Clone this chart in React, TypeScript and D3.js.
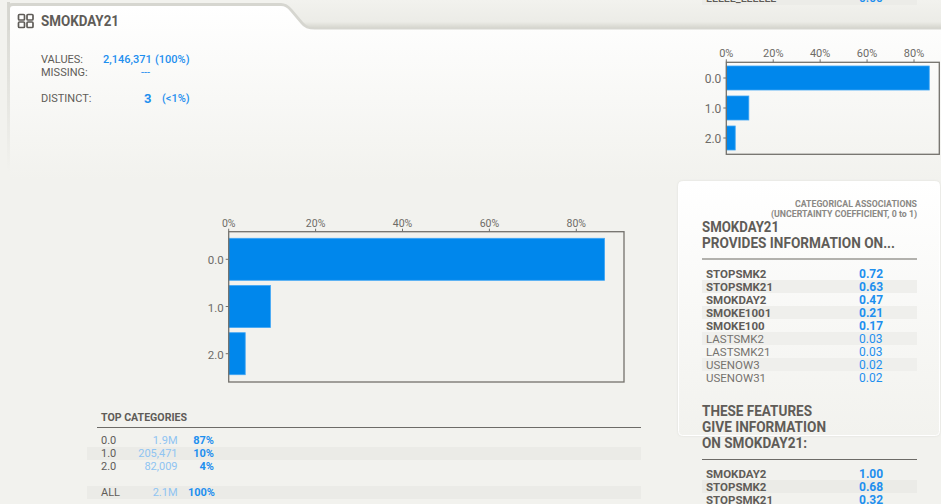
import React from "react";
import * as d3 from "d3";

const categories = ["0.0", "1.0", "2.0"];
const shares = [86.5, 9.6, 3.8];
const xTicks = [0, 20, 40, 60, 80];
const summary = [
  { k: "0.0", n: "1.9M", p: "87%" },
  { k: "1.0", n: "205,471", p: "10%" },
  { k: "2.0", n: "82,009", p: "4%" },
];
const providesNames = ["STOPSMK2", "STOPSMK21", "SMOKDAY2", "SMOKE1001", "SMOKE100", "LASTSMK2", "LASTSMK21", "USENOW3", "USENOW31"];
const providesValues = ["0.72", "0.63", "0.47", "0.21", "0.17", "0.03", "0.03", "0.02", "0.02"];
const givesNames = ["SMOKDAY2", "STOPSMK2", "STOPSMK21"];
const givesValues = ["1.00", "0.68", "0.32"];
// The reference clips this row to 1-2px of glyph bottoms: it cannot be read, so these are placeholders.
const clippedRowPlaceholder = ["LLLLL_LLLLLL", "0.00"];

const BLUE = "#0087ec";
const TXT = "#5f5c58";
const LINK = "#1e8fef";
const BG = "#f2f2ee";
const F = "Roboto, sans-serif";

function Cond({ x, y, w, size, children, fill = TXT, anchor = "start", weight = 700 }: any) {
  return (
    <text x={x} y={y} fontSize={size} fontFamily={F} fontWeight={weight} fill={fill} textAnchor={anchor}
      textLength={w} lengthAdjust="spacingAndGlyphs">{children}</text>
  );
}

function T({ x, y, size = 11, fill = TXT, anchor = "start", weight = 400, children }: any) {
  return <text x={x} y={y} fontSize={size} fontFamily={F} fontWeight={weight} fill={fill} textAnchor={anchor}>{children}</text>;
}

function BarChart({ x0, x80, right, top, bottom, bandTop, bandStep, bandH, fs }: any) {
  const x = d3.scaleLinear().domain([0, 80]).range([x0, x80]);
  return (
    <g>
      {shares.map((s, i) => (
        <rect key={i} x={x(0)} y={bandTop + i * bandStep} width={x(s) - x(0)} height={bandH} fill={BLUE} stroke="#3fa6f5" strokeWidth={0.8} />
      ))}
      <rect x={x0} y={top} width={right - x0} height={bottom - top} fill="none" stroke="#73716c" strokeWidth={1.3} />
      {xTicks.map((t) => (
        <g key={t}>
          <line x1={x(t)} x2={x(t)} y1={top - 3} y2={top} stroke="#73716c" />
          <T x={x(t)} y={top - 5} size={fs} fill="#6d6b67" anchor="middle">{t}%</T>
        </g>
      ))}
      {categories.map((c, i) => {
        const cy = bandTop + i * bandStep + bandH / 2;
        return (
          <g key={c}>
            <line x1={x0 - 3} x2={x0} y1={cy} y2={cy} stroke="#73716c" />
            <T x={x0 - 5} y={cy + 5} size={fs + 1} fill="#6d6b67" anchor="end">{c}</T>
          </g>
        );
      })}
    </g>
  );
}

export default function App() {
  return (
    <svg width={941} height={504} style={{ position: "absolute", left: 0, top: 0 }}>
      <defs>
        <linearGradient id="card" x1="0" y1="0" x2="0" y2="1">
          <stop offset="0" stopColor="#ffffff" />
          <stop offset="1" stopColor={BG} />
        </linearGradient>
        <linearGradient id="edge" x1="0" y1="0" x2="0" y2="1">
          <stop offset="0" stopColor="#d6d6d0" />
          <stop offset="1" stopColor={BG} />
        </linearGradient>
        <linearGradient id="top" x1="0" y1="0" x2="0" y2="1">
          <stop offset="0" stopColor={BG} />
          <stop offset="0.75" stopColor="#ecece7" />
          <stop offset="1" stopColor="#d2d2ca" />
        </linearGradient>
        <linearGradient id="assoc" x1="0" y1="0" x2="0" y2="1">
          <stop offset="0" stopColor="#ffffff" />
          <stop offset="1" stopColor={BG} />
        </linearGradient>
        <filter id="soft" x="-5%" y="-5%" width="110%" height="110%">
          <feDropShadow dx="0" dy="0" stdDeviation="1.2" floodColor="#c4c4bd" floodOpacity="0.45" />
        </filter>
        <clipPath id="topclip"><rect x={0} y={0} width={941} height={5} /></clipPath>
      </defs>

      <rect width={941} height={504} fill={BG} />
      <rect x={0} y={0} width={941} height={29} fill="url(#top)" />
      <rect x={0} y={0} width={285} height={29} fill={BG} />

      <g clipPath="url(#topclip)">
        <rect x={702} y={0} width={215} height={5} fill="#ecece8" />
        <T x={706} y={1.5} size={11} weight={500}>{clippedRowPlaceholder[0]}</T>
        <T x={859} y={1.5} size={12} fill={LINK} weight={500}>{clippedRowPlaceholder[1]}</T>
      </g>

      <rect x={7} y={2} width={3} height={170} fill="url(#edge)" />
      <path d="M8 28 V7 Q8 3 12 3 H281 Q287 3 292 9 L303 22 Q308 28 316 28 H941 V30 H8 Z" fill="#d6d6d0" />
      <path d="M10 180 V9 Q10 6 13 6 H281 Q286 6 290 11 L301 24 Q305 29.5 315 29.5 H941 V180 Z" fill="url(#card)" />

      <g>
        <rect x={18.5} y={14.5} width={6} height={5.5} rx={1} fill="none" stroke={TXT} strokeWidth={1.7} />
        <rect x={27} y={14.5} width={6} height={5.5} rx={1} fill="none" stroke={TXT} strokeWidth={1.7} />
        <rect x={18.5} y={22} width={6} height={5.5} rx={1} fill="none" stroke={TXT} strokeWidth={1.7} />
        <rect x={27} y={22} width={6} height={5.5} rx={1} fill="none" stroke={TXT} strokeWidth={1.7} />
      </g>
      <Cond x={41} y={26} w={78} size={14}>SMOKDAY21</Cond>

      <T x={41} y={63} size={11}>VALUES:</T>
      <T x={41} y={76} size={11}>MISSING:</T>
      <T x={41} y={102} size={11}>DISTINCT:</T>
      <T x={103} y={63} size={11} fill={LINK} weight={500}>2,146,371</T>
      <T x={155} y={63} size={11} fill={LINK} weight={500}>(100%)</T>
      <T x={141} y={76} size={11} fill={LINK}>---</T>
      <T x={144} y={103} size={13} fill={LINK} weight={700}>3</T>
      <T x={162} y={102} size={11} fill={LINK} weight={500}>(&lt;1%)</T>

      <BarChart x0={726.3} x80={914} right={939.3} top={62.3} bottom={154.3} bandTop={66} bandStep={30} bandH={24} fs={11} />
      <BarChart x0={228.7} x80={576.3} right={624} top={231.7} bottom={382} bandTop={238.3} bandStep={47.2} bandH={42} fs={10.5} />

      <Cond x={101} y={421} w={86} size={10.5}>TOP CATEGORIES</Cond>
      <line x1={97} x2={641} y1={427.5} y2={427.5} stroke="#6d6b67" strokeWidth={1.2} />
      <rect x={87} y={447} width={554} height={13} fill="#ebebe7" />
      <rect x={87} y={486} width={554} height={13} fill="#ebebe7" />
      {summary.map((r, i) => (
        <g key={r.k}>
          <T x={101} y={444 + i * 13} size={11}>{r.k}</T>
          <T x={177.5} y={444 + i * 13} size={11} fill="#8fc4f2" anchor="end">{r.n}</T>
          <T x={214} y={444 + i * 13} size={11} fill={LINK} anchor="end" weight={700}>{r.p}</T>
        </g>
      ))}
      <T x={101} y={496} size={11}>ALL</T>
      <T x={177.5} y={496} size={11} fill="#8fc4f2" anchor="end">2.1M</T>
      <T x={215} y={496} size={11} fill={LINK} anchor="end" weight={700}>100%</T>

      <rect x={678.5} y={181.5} width={261} height={254} rx={4} fill="url(#assoc)" stroke="#ffffff" strokeWidth={1} filter="url(#soft)" />

      <Cond x={917} y={207} w={122} size={9} fill="#8a8884" anchor="end">CATEGORICAL ASSOCIATIONS</Cond>
      <Cond x={917} y={217} w={146} size={9} fill="#8a8884" anchor="end">(UNCERTAINTY COEFFICIENT, 0 to 1)</Cond>
      <Cond x={702} y={232} w={77} size={14}>SMOKDAY21</Cond>
      <Cond x={702} y={248} w={193} size={14}>PROVIDES INFORMATION ON...</Cond>
      <line x1={702} x2={917} y1={259} y2={259} stroke="#9a9893" strokeWidth={1.5} />

      {providesNames.map((n, i) => {
        const y = 267 + i * 13;
        const strong = i < 5;
        return (
          <g key={n}>
            {i % 2 === 1 && <rect x={702} y={y} width={215} height={13} fill="#efefec" />}
            <T x={706} y={y + 10.5} size={11.5} weight={strong ? 700 : 400} fill={strong ? TXT : "#75726e"}>{n}</T>
            <T x={859} y={y + 10.5} size={12} weight={strong ? 700 : 400} fill={LINK}>{providesValues[i]}</T>
          </g>
        );
      })}

      <Cond x={702} y={416} w={110} size={14}>THESE FEATURES</Cond>
      <Cond x={702} y={432} w={124} size={14}>GIVE INFORMATION</Cond>
      <Cond x={702} y={448} w={105} size={14}>ON SMOKDAY21:</Cond>
      <line x1={702} x2={917} y1={459.5} y2={459.5} stroke="#6d6b67" strokeWidth={1.2} />
      {givesNames.map((n, i) => {
        const y = 467 + i * 13;
        return (
          <g key={n}>
            {i % 2 === 1 && <rect x={702} y={y} width={215} height={13} fill="#ebebe7" />}
            <T x={706} y={y + 10.5} size={11.5} weight={700}>{n}</T>
            <T x={859} y={y + 10.5} size={12} weight={700} fill={LINK}>{givesValues[i]}</T>
          </g>
        );
      })}
    </svg>
  );
}
